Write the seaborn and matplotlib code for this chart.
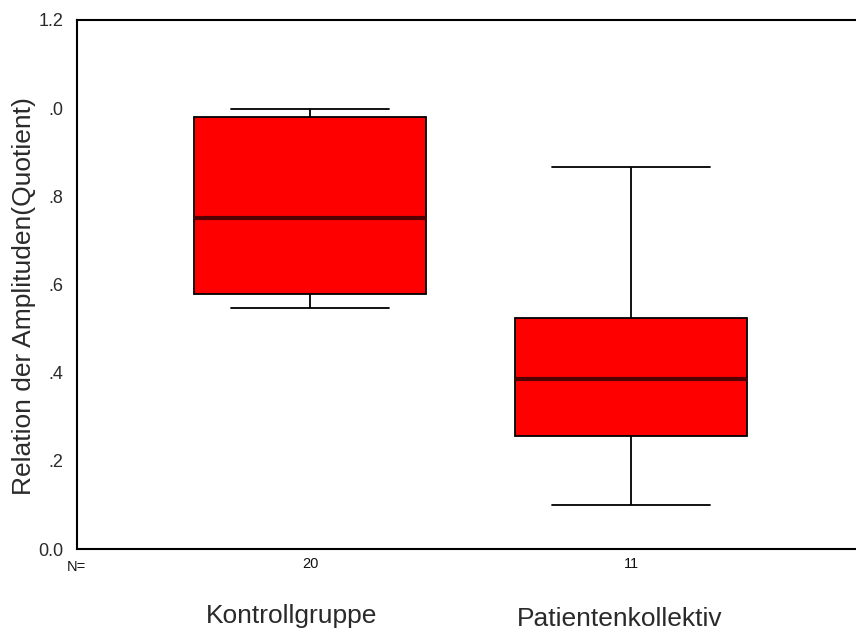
import numpy as np
import pandas as pd
import matplotlib
matplotlib.use("Agg")
import matplotlib.pyplot as plt
import seaborn as sns

# Five-number summaries (min, Q1, median, Q3, max)
groups = ["Kontrollgruppe", "Patientenkollektiv"]
n_labels = ["20", "11"]
kontroll_summary = [0.547, 0.578, 0.751, 0.980, 0.998]
patienten_summary = [0.100, 0.256, 0.386, 0.524, 0.867]
y_ticks = [0.0, 0.2, 0.4, 0.6, 0.8, 1.0, 1.2]
y_tick_labels = ["0.0", ".2", ".4", ".6", ".8", ".0", "1.2"]

df = pd.DataFrame({
    "group": [groups[0]] * len(kontroll_summary) + [groups[1]] * len(patienten_summary),
    "value": kontroll_summary + patienten_summary,
})

sns.set_theme(style="white")
plt.rcParams["font.family"] = ["Liberation Sans", "DejaVu Sans"]

W, H = 856, 637
fig = plt.figure(figsize=(W / 100, H / 100), dpi=100)
ax = fig.add_axes([77 / W, (H - 549) / H, (W - 77) / W, 529 / H])

sns.boxplot(
    data=df, x="group", y="value", ax=ax, order=groups,
    width=0.72, whis=np.inf, color="#ff0000", saturation=1,
    linecolor="black", linewidth=1.3,
    medianprops=dict(color="#520000", linewidth=3),
    capwidths=0.49,
)

ax.set_xlim(-0.726, 1.701)
ax.set_ylim(0, 1.2)
ax.set_yticks(y_ticks)
ax.set_yticklabels(y_tick_labels, fontsize=13, color="#2a2a2a")
ax.set_xticks([0, 1])
ax.set_xticklabels(n_labels, fontsize=10.5, color="#111111")
ax.tick_params(axis="both", direction="out", length=2, width=1.5, color="black")
ax.tick_params(axis="x", pad=4)
ax.tick_params(axis="y", pad=8)
ax.set_xlabel("")
ax.set_ylabel("")

for s in ["left", "bottom", "top"]:
    ax.spines[s].set_visible(True)
    ax.spines[s].set_color("black")
    ax.spines[s].set_linewidth(1.5)
ax.spines["right"].set_visible(False)

fig.text(24 / W, 1 - 296 / H, "Relation der Amplituden(Quotient)", fontsize=19,
         rotation=90, ha="center", va="center", color="#2a2a2a")
fig.text(76 / W, 1 - 567 / H, "N=", fontsize=10.5, ha="center", va="center", color="#111111")
fig.text(292 / W, 1 - 623 / H, groups[0], fontsize=19, ha="center", va="baseline", color="#2a2a2a")
fig.text(620 / W, 1 - 626 / H, groups[1], fontsize=19, ha="center", va="baseline", color="#2a2a2a")

fig.savefig("out.png", dpi=100)
